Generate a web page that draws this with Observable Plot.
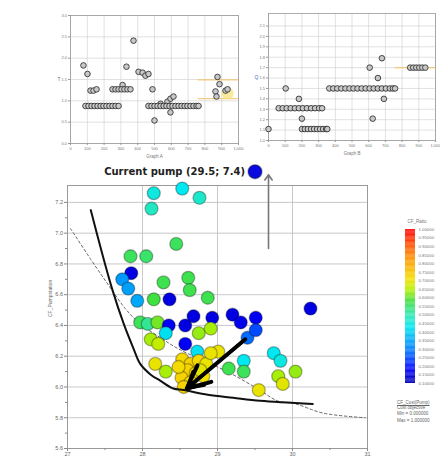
<!DOCTYPE html>
<html><head><meta charset="utf-8">
<script src="https://cdn.jsdelivr.net/npm/d3@7"></script>
<script src="https://cdn.jsdelivr.net/npm/@observablehq/plot@0.6"></script>
<style>
body{margin:0;background:#fff;font-family:"Liberation Sans",Arial,sans-serif;}
#wrap{position:relative;width:440px;height:457px;overflow:hidden;background:#fff}
.note{position:absolute;font-size:4.5px;color:#666;white-space:nowrap;line-height:1}
</style></head><body><div id="wrap"></div>
<script>
// ---------- main chart data ----------
const pumpX = [28.15,28.53,28.76,28.12,28.45,27.84,28.05,27.85,27.73,27.81,27.93,28.28,28.61,28.63,28.15,28.36,28.87,27.97,28.07,28.20,28.35,28.31,28.11,28.21,28.57,28.68,28.93,28.75,28.91,28.57,28.73,29.20,29.31,29.51,29.40,29.51,28.17,28.31,29.01,29.15,29.35,29.35,29.55,30.24,29.75,29.84,29.81,29.87,30.04,28.53,28.64,28.75,28.85,28.60,28.71,28.81,28.52,28.64,28.55,28.77,28.91,28.48];
const pumpY = [7.26,7.29,7.23,7.16,6.93,6.85,6.85,6.74,6.70,6.64,6.56,6.68,6.71,6.63,6.57,6.57,6.58,6.42,6.41,6.42,6.40,6.35,6.31,6.28,6.40,6.46,6.45,6.35,6.38,6.28,6.23,6.47,6.42,6.45,6.32,6.37,6.15,6.10,6.23,6.12,6.17,6.10,5.98,6.51,6.22,6.17,6.07,6.02,6.10,6.18,6.15,6.17,6.15,6.11,6.09,6.07,6.06,6.03,6.00,6.11,6.22,6.13];
const pumpRatio = [.45,.43,.47,.48,.56,.56,.55,.15,.33,.34,.35,.57,.57,.57,.58,.15,.57,.56,.52,.61,.17,.42,.64,.66,.15,.15,.15,.63,.64,.17,.42,.15,.16,.17,.28,.25,.70,.64,.70,.57,.43,.56,.70,.15,.43,.45,.64,.69,.63,.72,.73,.72,.70,.73,.72,.71,.73,.72,.73,.69,.70,.72];
const solidX = [27.31,27.45,27.60,27.75,27.88,27.97,28.11,28.24,28.41,28.55,28.87,29.21,29.57,30.27];
const solidY = [7.15,6.89,6.63,6.41,6.25,6.15,6.08,6.04,5.99,5.98,5.95,5.93,5.91,5.89];
const dashX = [27.04,27.31,27.55,27.77,27.97,28.24,28.47,28.77,29.13,29.53,29.80,30.04,30.41,30.97];
const dashY = [7.03,6.83,6.66,6.51,6.41,6.32,6.25,6.18,6.10,5.99,5.91,5.89,5.83,5.80];
const bigArrow = [{x1:29.37, y1:6.31, x2:28.59, y2:5.99}];
const thinArrow = [{x1:29.68, y1:6.90, x2:29.68, y2:7.38}];
const currentPump = [{x:29.5, y:7.4, label:"Current pump (29.5; 7.4)"}];
const mainXTicks = [27,28,29,30,31];
const mainYTicks = [5.6,5.8,6.0,6.2,6.4,6.6,6.8,7.0,7.2];
const mainXMinor = [27.5,28.5,29.5,30.5];
const mainYMinor = [5.7,5.9,6.1,6.3,6.5,6.7,6.9,7.1];

// ---------- colour scale ----------
const ratioStops  = [0.10,0.18,0.30,0.43,0.50,0.58,0.65,0.71,0.84,1.00];
const ratioColors = ["#0000b4","#0000ff","#0080ff","#00e8f0","#30e8b0","#40e040","#b8f000","#f4e000","#ff8c00","#ff0000"];
const cbTicks = [1.00,0.95,0.90,0.85,0.80,0.75,0.70,0.65,0.60,0.55,0.50,0.45,0.40,0.35,0.30,0.25,0.20,0.15,0.10];

// ---------- top-left chart data ----------
const tlXs = [77,101,119,137,155,310,333,375,405,429,446,464,488,500,536,577,595,595,613,875,887,863,923,935,869,
  89,107,125,143,161,179,196,214,232,250,268,286,
  250,268,286,304,321,339,357,
  464,482,500,518,536,554,571,589,607,625,643,661,679,696,714,732,750,762];
const tlYs = [1.83,1.63,1.24,1.24,1.27,1.37,1.80,2.41,1.68,1.66,1.59,1.63,1.27,0.54,0.93,0.98,1.05,0.73,1.10,1.56,1.39,1.22,1.24,1.27,1.10,
  0.88,0.88,0.88,0.88,0.88,0.88,0.88,0.88,0.88,0.88,0.88,0.88,
  1.27,1.27,1.27,1.27,1.27,1.27,1.27,
  0.88,0.88,0.88,0.88,0.88,0.88,0.88,0.88,0.88,0.88,0.88,0.88,0.88,0.88,0.88,0.88,0.88,0.88];
const tlOrange = [{x1:760,x2:1000,y:1.49},{x1:760,x2:1000,y:1.05}];
const tlHighlight = [{x:935,y:1.17}];
const tlXTicks = [0,100,200,300,400,500,600,700,800,900,1000];
const tlYTicks = [0,0.5,1,1.5,2,2.5,3];

// ---------- top-right chart data ----------
const trXs = [0,103,182,200,606,655,679,691,624,
  61,85,109,133,158,182,206,230,255,279,303,321,
  200,218,236,255,273,291,309,327,345,352,
  364,388,412,436,461,485,509,533,558,582,606,630,655,679,703,727,745,758,
  848,867,885,903,921,939];
const trYs = [1.11,1.50,1.40,1.21,1.70,1.60,1.79,1.40,1.21,
  1.31,1.31,1.31,1.31,1.31,1.31,1.31,1.31,1.31,1.31,1.31,1.31,
  1.11,1.11,1.11,1.11,1.11,1.11,1.11,1.11,1.11,1.11,
  1.50,1.50,1.50,1.50,1.50,1.50,1.50,1.50,1.50,1.50,1.50,1.50,1.50,1.50,1.50,1.50,1.50,1.50,
  1.70,1.70,1.70,1.70,1.70,1.70];
const trOrange = [{x1:760,x2:1000,y:1.70}];
const trXTicks = [0,100,200,300,400,500,600,700,800,900,1000];
const trYTicks = [1.0,1.1,1.2,1.3,1.4,1.5,1.6,1.7,1.8,1.9,2.0,2.1];

// ---------- build ----------
const wrap = document.getElementById("wrap");
const FONT = "Liberation Sans, Arial, sans-serif";
const pos = (l,t) => ({position:"absolute", left:l+"px", top:t+"px", background:"transparent", fontFamily:FONT, overflow:"visible", maxWidth:"none"});
const zip = (xs, ys) => xs.map((x,i) => ({x, y: ys[i]}));

const pumps = pumpX.map((x,i) => ({x, y: pumpY[i], r: pumpRatio[i]}));
const colorOpt = {type:"linear", domain: ratioStops, range: ratioColors, interpolate:"rgb"};

function smallChart(opts) {
  return Plot.plot({
    width: opts.width, height: opts.height,
    marginLeft: opts.ml, marginRight: opts.mr, marginTop: opts.mt, marginBottom: opts.mb,
    style: pos(opts.left, opts.top),
    x: {domain:[0,1000]}, y: {domain: opts.ydom},
    marks: [
      Plot.gridX(opts.xt, {stroke:"#ccc", strokeOpacity:1, strokeWidth:0.6}),
      Plot.gridY(opts.yt, {stroke:"#ccc", strokeOpacity:1, strokeWidth:0.6}),
      Plot.frame({stroke:"#999", strokeWidth:0.8}),
      Plot.axisX(opts.xt, {tickSize:2, tickPadding:1.5, fontSize:4, fill:"#777", stroke:"#999", label:null}),
      Plot.axisY(opts.yt, {tickSize:2, tickPadding:1.5, fontSize:4, fill:"#777", stroke:"#999", label:null, tickFormat: opts.yfmt}),
      Plot.ruleY(opts.orange, {x1:"x1", x2:"x2", y:"y", stroke:"#f4c060", strokeWidth:1.2, strokeOpacity:0.8}),
      ...(opts.highlight ? [Plot.dot(opts.highlight, {x:"x", y:"y", r:6, fill:"#f6e27a", fillOpacity:0.75})] : []),
      Plot.dot(opts.pts, {x:"x", y:"y", r:2.8, fill:"#c8c8c8", stroke:"#222", strokeWidth:0.8}),
      Plot.text([opts.title], {frameAnchor:"bottom", dy:14, fontSize:4.5, fill:"#777"}),
      Plot.text([opts.ylabel], {frameAnchor:"left", dx:opts.ylDx, fontSize:5, fill:opts.ylColor})
    ]
  });
}

wrap.appendChild(smallChart({
  width:200, height:157, ml:25, mr:7, mt:10, mb:19, left:45, top:5,
  ydom:[0,3], xt:tlXTicks, yt:tlYTicks, yfmt:d3.format(".1f"),
  orange: tlOrange, highlight: tlHighlight, pts: zip(tlXs, tlYs),
  title:"Graph A", ylabel:"T", ylDx:-13, ylColor:"#777"
}));
wrap.appendChild(smallChart({
  width:190, height:160, ml:18, mr:5, mt:10, mb:23, left:250, top:3,
  ydom:[1.0,2.22], xt:trXTicks, yt:trYTicks, yfmt:d3.format(".1f"),
  orange: trOrange, highlight: null, pts: zip(trXs, trYs),
  title:"Graph B", ylabel:"Q", ylDx:-14, ylColor:"#3a6fd0"
}));

// main chart
wrap.appendChild(Plot.plot({
  width:340, height:297, marginLeft:27, marginRight:13, marginTop:25, marginBottom:9,
  style: pos(40,160),
  x: {domain:[27,31]}, y: {domain:[5.6,7.31]},
  color: colorOpt,
  marks: [
    Plot.gridX(mainXTicks.slice(1,-1), {stroke:"#bbb", strokeOpacity:1, strokeWidth:0.8}),
    Plot.gridY(mainYTicks, {stroke:"#bbb", strokeOpacity:1, strokeWidth:0.8}),
    Plot.frame({stroke:"#999", strokeWidth:1}),
    Plot.axisX(mainXTicks, {tickSize:3, tickPadding:1, fontSize:5.5, fill:"#666", stroke:"#888", label:null}),
    Plot.axisX(mainXMinor, {tickSize:2, stroke:"#888", text:null, label:null}),
    Plot.axisY(mainYTicks, {tickSize:3, tickPadding:1.5, fontSize:5.5, fill:"#666", stroke:"#888", label:null, tickFormat:d3.format(".1f")}),
    Plot.axisY(mainYMinor, {tickSize:2, stroke:"#888", text:null, label:null}),
    Plot.text(["CF_Pumpstation"], {frameAnchor:"left", dx:-17, rotate:-90, fontSize:5, fill:"#666"}),
    Plot.line(zip(dashX, dashY), {x:"x", y:"y", stroke:"#666", strokeWidth:1, strokeDasharray:"2.5,2.5", curve:"catmull-rom"}),
    Plot.dot(pumps, {x:"x", y:"y", r:6.5, fill:"r", stroke:"#000", strokeOpacity:0.3, strokeWidth:1.3}),
    Plot.line(zip(solidX, solidY), {x:"x", y:"y", stroke:"#111", strokeWidth:2, curve:"catmull-rom"}),
    Plot.arrow(bigArrow, {x1:"x1", y1:"y1", x2:"x2", y2:"y2", stroke:"#000", strokeWidth:4, headLength:16, headAngle:50}),
    Plot.arrow(bigArrow, {x1:"x1", y1:"y1", x2:"x2", y2:"y2", stroke:"#000", strokeWidth:3, headLength:9, headAngle:60}),
    Plot.arrow(thinArrow, {x1:"x1", y1:"y1", x2:"x2", y2:"y2", stroke:"#777", strokeWidth:1.6, headLength:6, headAngle:70}),
    Plot.dot(currentPump, {x:"x", y:"y", r:7, fill:"#0a0ae0", stroke:"#000", strokeOpacity:0.3}),
    Plot.text(currentPump, {x:"x", y:"y", text:"label", textAnchor:"end", dx:-10, fontSize:10, fontWeight:"bold", fontFamily:"DejaVu Sans, sans-serif", fill:"#222"})
  ]
}));

// colour bar
const cbBands = d3.range(0.10, 1.0, 0.005).map(v => ({y1:v, y2:Math.min(1, v+0.0055), v:v+0.0025}));
wrap.appendChild(Plot.plot({
  width:45, height:185, marginLeft:10, marginRight:25, marginTop:24, marginBottom:7,
  style: pos(395,205),
  x: {domain:[0,1], axis:null}, y: {domain:[0.1,1.0], axis:null},
  color: colorOpt,
  marks: [
    Plot.rect(cbBands, {x1:0, x2:1, y1:"y1", y2:"y2", fill:"v"}),
    Plot.axisY(cbTicks, {anchor:"right", tickSize:0, tickPadding:3, fontSize:4.3, fill:"#777", tickFormat:d3.format(".5f"), label:null}),
    Plot.text(["CF_Ratio"], {frameAnchor:"top-left", dy:-10, dx:2, fontSize:4.5, fill:"#777", textAnchor:"start"})
  ]
}));

// notes under colour bar
const notes = [["CF_Cost(Pump)", 401, true], ["Cost objective", 406, false], ["Min = 0.000000", 412, false], ["Max = 1.000000", 419, false]];
notes.forEach(([t, y, u]) => {
  const d = document.createElement("div");
  d.className = "note"; d.textContent = t;
  d.style.left = "397px"; d.style.top = y + "px";
  if (u) d.style.textDecoration = "underline";
  wrap.appendChild(d);
});
</script></body></html>
